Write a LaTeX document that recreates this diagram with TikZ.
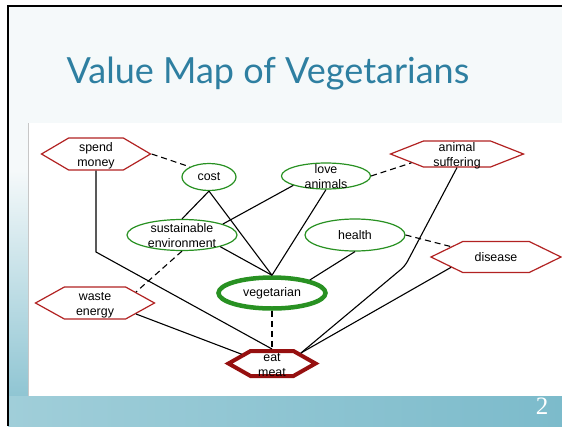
\documentclass[tikz,border=0pt]{standalone}
\usepackage{fontspec}
\usepackage{tikz}
\usetikzlibrary{shapes.geometric, shapes.symbols}
\setmainfont{Liberation Sans}
\newfontfamily\titlefont{Lato}
\newfontfamily\numfont{Liberation Serif}
\definecolor{titleblue}{RGB}{46,127,161}
\definecolor{valgreen}{RGB}{40,145,34}
\definecolor{firebrick}{RGB}{178,34,34}
\definecolor{meatred}{RGB}{150,16,16}
\definecolor{slidebg}{RGB}{245,249,250}
\definecolor{bandlight}{RGB}{160,206,217}
\definecolor{banddark}{RGB}{124,187,203}

\tikzset{
  value/.style={ellipse, draw=valgreen, line width=1.2pt, inner sep=0pt, align=center,
    font=\fontsize{12.4}{15}\selectfont},
  worry/.style={signal, signal to=east and west, draw=firebrick, line width=1.2pt,
    inner sep=0pt, align=center, font=\fontsize{12.4}{15}\selectfont},
  twolines/.style={text height=25pt, text depth=0pt, inner ysep=-11pt},
  link/.style={line width=1.1pt},
  weak/.style={link, dash pattern=on 6pt off 4pt},
}

\begin{document}
\begin{tikzpicture}[x=1pt, y=-1pt]
                \useasboundingbox (0,0) rectangle (562,426);
                % Slide
                \fill[white] (0,0) rectangle (562,426);
                \fill[slidebg] (8,6) rectangle (562,426);
                \shade[top color=slidebg, bottom color=banddark!85] (8,170) rectangle (28,396);
                \shade[left color=bandlight, right color=banddark] (8,396) rectangle (562,426);
                \draw[line width=2.5pt] (8,426) -- (8,6) -- (562,6);
                \fill[white] (28,123) rectangle (562,396);
                \draw[black!22, line width=0.8pt] (28,123) -- (28,396);
                \node[font=\titlefont\fontsize{36}{36}\selectfont, text=titleblue, anchor=base] (title) at (268,83) {Value Map of Vegetarians};
                \node[font=\numfont\fontsize{25}{25}\selectfont, text=white] (pnum) at (542,406) {2};

                % Values
                \node[value, minimum width=54, minimum height=27] (cost) at (209,177) {cost};
                \node[value, twolines, minimum width=89, minimum height=26] (love) at (326,176) {love\\animals};
                \node[value, twolines, minimum width=110, minimum height=31] (sust) at (182,235) {sustainable\\environment};
                \node[value, minimum width=100, minimum height=32] (health) at (355,235) {health};
                \node[value, draw=valgreen, line width=4.5pt, minimum width=107, minimum height=31] (veg) at (272,293) {vegetarian};

                % Concerns
                \node[worry, twolines, signal pointer angle=61, minimum width=109, minimum height=32] (spend) at (96,154) {spend\\money};
                \node[worry, twolines, signal pointer angle=43, minimum width=133, minimum height=26] (suff) at (457,154) {animal\\suffering};
                \node[worry, signal pointer angle=52, minimum width=130, minimum height=31] (disease) at (496,257) {disease};
                \node[worry, twolines, signal pointer angle=58, minimum width=119, minimum height=32] (waste) at (95,303) {waste\\energy};
                \node[worry, twolines, draw=meatred, line width=4pt, signal pointer angle=59, minimum width=87, minimum height=25] (eat) at (272,363.5) {eat\\meat};

                % Bends
                \coordinate (b1) at (96,252);
                \coordinate (b2) at (405,266);

                % Links
                \draw[weak] (spend.east) -- (cost.152);
                \draw[link] (cost.south) -- (sust.north);
                \draw[link] (cost.south) -- (veg.north);
                \draw[link] (love.196) -- (sust.15);
                \draw[link] (love.south) -- (veg.north);
                \draw[weak] (love.east) -- (suff.191);
                \draw[link] (sust.343) -- (veg.north);
                \draw[weak] (sust.south) -- (waste.15);
                \draw[weak] (health.east) -- (disease.167);
                \draw[link] (health.south) -- (veg.19);
                \draw[weak] (veg.south) -- (eat.north);
                \draw[link] (spend.south) -- (b1) -- (eat.north);
                \draw[link, rounded corners=5pt] (suff.south) -- (b2) -- (eat.20);
                \draw[link] (disease.193) -- (eat.20);
                \draw[link] (waste.345) -- (eat.163);

            \end{tikzpicture}
\end{document}
